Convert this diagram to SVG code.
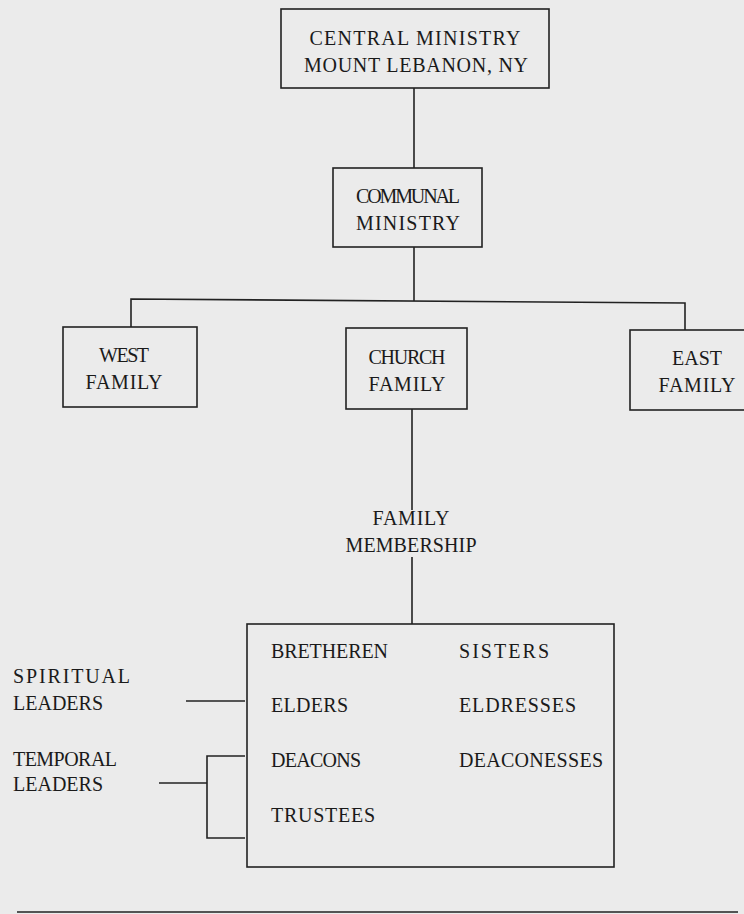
<svg xmlns="http://www.w3.org/2000/svg" width="744" height="914" viewBox="0 0 744 914">
<style>
.bg{fill:#ebebeb}
.box{fill:none;stroke:#222;stroke-width:1.6}
.ln{fill:none;stroke:#222;stroke-width:1.6}
text{font-family:"Liberation Serif","Times New Roman",serif;font-size:20px;fill:#1a1a1a}
.c{text-anchor:middle}
</style>
<rect class="bg" x="0" y="0" width="744" height="914"/>
<g id="connectors">
<path class="ln" d="M414 88 V168"/>
<path class="ln" d="M414 247 V301"/>
<path class="ln" d="M131 327 V299 L685 303 V330"/>
<path class="ln" d="M412 409 V510"/>
<path class="ln" d="M412 557 V624"/>
<path class="ln" d="M186 701 H245"/>
<path class="ln" d="M245 756 H207 V838 H245"/>
<path class="ln" d="M159 783 H207"/>
<path class="ln" d="M17 912 H738"/>
</g>
<g id="central">
<rect class="box" x="281" y="9" width="268" height="79"/>
<text class="c" x="415" y="45" textLength="211" lengthAdjust="spacing">CENTRAL MINISTRY</text>
<text class="c" x="416" y="72" textLength="224" lengthAdjust="spacing">MOUNT LEBANON, NY</text>
</g>
<g id="communal">
<rect class="box" x="333" y="168" width="149" height="79"/>
<text class="c" x="408" y="203" textLength="104" lengthAdjust="spacing">COMMUNAL</text>
<text class="c" x="408" y="230" textLength="104" lengthAdjust="spacing">MINISTRY</text>
</g>
<g id="west">
<rect class="box" x="63" y="327" width="134" height="80"/>
<text class="c" x="124" y="362" textLength="50" lengthAdjust="spacing">WEST</text>
<text class="c" x="124" y="389" textLength="77" lengthAdjust="spacing">FAMILY</text>
</g>
<g id="church">
<rect class="box" x="346" y="328" width="121" height="81"/>
<text class="c" x="407" y="364" textLength="77" lengthAdjust="spacing">CHURCH</text>
<text class="c" x="407" y="391" textLength="77" lengthAdjust="spacing">FAMILY</text>
</g>
<g id="east">
<rect class="box" x="630" y="330" width="120" height="80"/>
<text class="c" x="697" y="365" textLength="50" lengthAdjust="spacing">EAST</text>
<text class="c" x="697" y="392" textLength="77" lengthAdjust="spacing">FAMILY</text>
</g>
<g id="membership">
<text class="c" x="411" y="525" textLength="77" lengthAdjust="spacing">FAMILY</text>
<text class="c" x="411" y="552" textLength="131" lengthAdjust="spacing">MEMBERSHIP</text>
</g>
<g id="members">
<rect class="box" x="247" y="624" width="367" height="243"/>
<text x="271" y="658" textLength="117" lengthAdjust="spacing">BRETHEREN</text>
<text x="459" y="658" textLength="90" lengthAdjust="spacing">SISTERS</text>
<text x="271" y="712" textLength="77" lengthAdjust="spacing">ELDERS</text>
<text x="459" y="712" textLength="117" lengthAdjust="spacing">ELDRESSES</text>
<text x="271" y="767" textLength="90" lengthAdjust="spacing">DEACONS</text>
<text x="459" y="767" textLength="144" lengthAdjust="spacing">DEACONESSES</text>
<text x="271" y="822" textLength="104" lengthAdjust="spacing">TRUSTEES</text>
</g>
<g id="spiritual">
<text x="13" y="683" textLength="117" lengthAdjust="spacing">SPIRITUAL</text>
<text x="13" y="710" textLength="90" lengthAdjust="spacing">LEADERS</text>
</g>
<g id="temporal">
<text x="13" y="766" textLength="104" lengthAdjust="spacing">TEMPORAL</text>
<text x="13" y="791" textLength="90" lengthAdjust="spacing">LEADERS</text>
</g>
</svg>
